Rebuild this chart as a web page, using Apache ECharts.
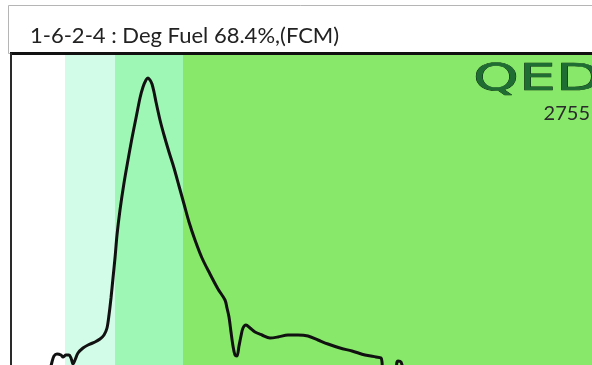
<!DOCTYPE html>
<html>
<head>
<meta charset="utf-8">
<script src="https://cdn.jsdelivr.net/npm/echarts@6/dist/echarts.min.js"></script>
<style>
  html, body { margin: 0; padding: 0; background: #fff; }
  #chart { width: 592px; height: 365px; }
</style>
</head>
<body>
<div id="chart"></div>
<script>
// Spectrum trace: channel position vs. signal level
var channels = [38, 40, 42, 45, 49, 51, 54, 57, 59, 61, 63, 66, 71, 76, 83, 88, 92, 95, 97, 99, 101, 103,
  105, 108, 112, 116, 120, 124, 128, 131, 134, 136, 138, 140, 142, 144, 148, 152, 157, 162, 167, 172,
  177, 183, 190, 198, 206, 213, 215, 217, 219, 221, 223, 225, 227, 229, 231, 234, 238, 243, 250,
  258, 266, 276, 286, 296, 306, 316, 328, 340, 353, 364, 369, 370, 371, 383, 385, 386, 389, 392, 393, 400];
var counts = [-5, 3, 9, 11, 10, 8, 10, 10, 7, 1, 5, 12, 17, 20, 23, 26, 30, 37, 50, 67, 87, 107,
  130, 155, 182, 205, 227, 247, 267, 278, 285, 287, 285, 281, 273, 263, 245, 230, 213, 197, 179, 161,
  143, 125, 107, 91, 76, 65, 57, 48, 33, 19, 10, 9, 19, 29, 37, 40, 37, 33, 30,
  27, 28, 30, 30, 29, 25, 21, 17, 14, 10, 8, 7, 3, -6, -6, 3, 4, 3, -6, -6, -6];

// Region boundaries along the channel axis
var bandEdges = [53, 103, 171, 580];

// Header texts
var titleText = '1-6-2-4 : Deg Fuel 68.4%,(FCM)';
var logoText = 'QED';
var serialText = '2755';

var bandFills = ['#d2fbe8', '#9ff7b5', '#88e86a'];
var bands = [];
for (var i = 0; i < bandEdges.length - 1; i++) {
  bands.push([
    { xAxis: bandEdges[i], itemStyle: { color: bandFills[i] } },
    { xAxis: bandEdges[i + 1] }
  ]);
}

var trace = channels.map(function (c, i) { return [c, counts[i]]; });

var chart = echarts.init(document.getElementById('chart'), null, { renderer: 'canvas' });
chart.setOption({
  animation: false,
  backgroundColor: '#ffffff',
  grid: { left: 12, top: 55, right: 0, bottom: 0 },
  xAxis: {
    type: 'value', min: 0, max: 580,
    show: false
  },
  yAxis: {
    type: 'value', min: 0, max: 310,
    show: false
  },
  series: [{
    type: 'line',
    data: trace,
    smooth: 0.3,
    symbol: 'none',
    clip: true,
    lineStyle: { color: '#111', width: 3 },
    markArea: {
      silent: true,
      data: bands
    },
    z: 3
  }],
  graphic: [
    {
      type: 'rect', z: 10,
      shape: { x: 8.5, y: 5.5, width: 600, height: 48 },
      style: { fill: '#ffffff', stroke: '#b5b5b5', lineWidth: 1 }
    },
    {
      type: 'line', z: 11,
      shape: { x1: 10, y1: 53.5, x2: 592, y2: 53.5 },
      style: { stroke: '#111', lineWidth: 3 }
    },
    {
      type: 'line', z: 11,
      shape: { x1: 11, y1: 53, x2: 11, y2: 365 },
      style: { stroke: '#2a2a2a', lineWidth: 2 }
    },
    {
      type: 'text', z: 12,
      left: 30, top: 25,
      style: { text: titleText, fill: '#222', font: '22px Lato' }
    },
    {
      type: 'text', z: 12,
      x: 473, y: 62,
      scaleX: 1.58, scaleY: 1,
      style: {
        text: logoText, fill: '#1f6d33', stroke: '#041a09', lineWidth: 0.6,
        font: '37px "DejaVu Sans"'
      }
    },
    {
      type: 'text', z: 12,
      right: 2, top: 104,
      style: { text: serialText, fill: '#2b2b2b', font: '20px Lato' }
    }
  ]
});
</script>
</body>
</html>
